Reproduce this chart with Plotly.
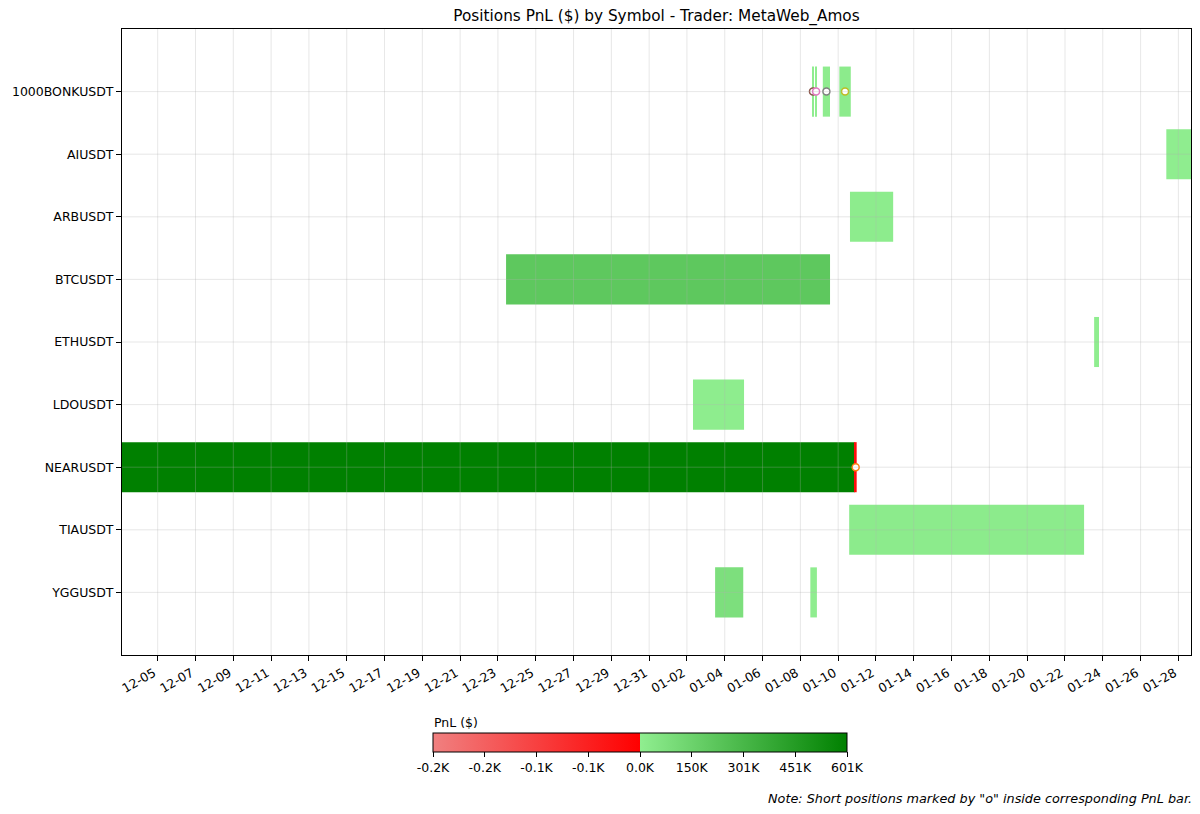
import numpy as np
import pandas as pd
import plotly.graph_objects as go

# --- data ---------------------------------------------------------------
symbols = ["1000BONKUSDT", "AIUSDT", "ARBUSDT", "BTCUSDT", "ETHUSDT",
           "LDOUSDT", "NEARUSDT", "TIAUSDT", "YGGUSDT"]

pos_symbol = ["NEARUSDT", "NEARUSDT",
              "1000BONKUSDT", "1000BONKUSDT", "1000BONKUSDT", "1000BONKUSDT",
              "AIUSDT", "ARBUSDT", "BTCUSDT", "ETHUSDT", "LDOUSDT", "TIAUSDT",
              "YGGUSDT", "YGGUSDT"]
pos_open = ["2023-12-03 02:40", "2024-01-10 21:00",
            "2024-01-08 15:00", "2024-01-08 19:00", "2024-01-09 04:30", "2024-01-10 01:30",
            "2024-01-27 08:40", "2024-01-10 15:00", "2023-12-23 10:20", "2024-01-23 13:00",
            "2024-01-02 07:40", "2024-01-10 14:00",
            "2024-01-03 11:45", "2024-01-08 12:40"]
pos_close = ["2024-01-10 21:00", "2024-01-10 23:30",
             "2024-01-08 17:00", "2024-01-08 21:00", "2024-01-09 13:40", "2024-01-10 16:00",
             "2024-01-28 16:00", "2024-01-12 21:50", "2024-01-09 13:40", "2024-01-23 19:10",
             "2024-01-05 00:30", "2024-01-23 00:15",
             "2024-01-04 23:30", "2024-01-08 21:00"]
pos_pnl = [601200, -20,
           4000, 2000, 9000, 15000,
           6000, 12000, 210000, 3000, 8000, 18000,
           80000, 3000]
pos_short = [False, True,
             True, True, True, True,
             False, False, False, False, False, False,
             False, False]
# marker edge colours of the short positions (in order of appearance)
short_colors = ["#ff7f0e", "#8c564b", "#e377c2", "#7f7f7f", "#bcbd22"]

PNL_MIN = -210
PNL_MAX = 601200

df = pd.DataFrame({"symbol": pos_symbol, "open": pd.to_datetime(pos_open),
                   "close": pd.to_datetime(pos_close), "pnl": pos_pnl, "short": pos_short})
df["dur_ms"] = (df["close"] - df["open"]).dt.total_seconds() * 1000
df["mid"] = df["open"] + (df["close"] - df["open"]) / 2

# red half of the colour bar for losses, green half for gains
def to_c(v):
    if v < 0:
        return 0.5 * (1 - v / PNL_MIN)
    return 0.5 + 0.5 * v / PNL_MAX

df["c"] = df["pnl"].apply(to_c)

neg_ticks = np.linspace(PNL_MIN, 0, 5)
pos_ticks = np.linspace(0, PNL_MAX, 5)[1:]
tick_vals = [to_c(v) for v in neg_ticks] + [to_c(v) for v in pos_ticks]
tick_text = [f"{v/1000:.1f}K" for v in neg_ticks] + [f"{v/1000:.0f}K" for v in pos_ticks]

FONT = "DejaVu Sans"
FS = 12.5
# page body has an 8px margin, so the figure is laid out 8px in from the corner
W, H = 1184, 798
L, R, T, B = 114, 1, 21, 151
PW = W - L - R
PH = H - T - B
BOT = H - B  # plot bottom, px from figure top

def px_x(x):
    return (x - L) / PW

def px_y(y):
    return -(y - BOT) / PH

fig = go.Figure()

fig.add_trace(go.Bar(
    y=df["symbol"],
    x=df["dur_ms"],
    base=df["open"],
    orientation="h",
    width=0.8,
    marker=dict(
        color=df["c"],
        cmin=0, cmax=1,
        colorscale=[[0, "#F08080"], [0.5, "#FF0000"], [0.5, "#90EE90"], [1, "#008000"]],
        line=dict(width=0),
        colorbar=dict(
            orientation="h",
            x=px_x(632), xanchor="center",
            y=px_y(725), yanchor="top",
            len=414, lenmode="pixels",
            thickness=19, xpad=0, ypad=0,
            outlinecolor="black", outlinewidth=1,
            tickvals=tick_vals, ticktext=tick_text,
            ticks="outside", ticklen=5, tickcolor="black",
            tickfont=dict(family=FONT, size=FS, color="black"),
        ),
    ),
    showlegend=False,
    hoverinfo="skip",
))

shorts = df[df["short"]]
fig.add_trace(go.Scatter(
    x=shorts["mid"], y=shorts["symbol"],
    mode="markers",
    marker=dict(symbol="circle", size=7, color="white",
                line=dict(color=short_colors, width=1.5)),
    showlegend=False,
    hoverinfo="skip",
))

# grid drawn on top of the bars, as in the original
x_ticks = pd.date_range("2023-12-05", "2024-01-28", freq="2D")
x_lo = df["open"].min()
x_hi = df["close"].max()
shapes = []
for t in x_ticks:
    shapes.append(dict(type="line", xref="x", yref="paper", x0=t, x1=t, y0=0, y1=1,
                       line=dict(color="rgba(176,176,176,0.3)", width=1), layer="above"))
for s in symbols:
    shapes.append(dict(type="line", xref="paper", yref="y", x0=0, x1=1, y0=s, y1=s,
                       line=dict(color="rgba(176,176,176,0.3)", width=1), layer="above"))
# divider between the two halves of the colour bar
shapes.append(dict(type="line", xref="paper", yref="paper", x0=px_x(632), x1=px_x(632),
                   y0=px_y(725), y1=px_y(744), line=dict(color="black", width=1)))

fig.update_layout(
    width=W, height=H,
    margin=dict(l=L, r=R, t=T, b=B),
    plot_bgcolor="white", paper_bgcolor="white",
    barmode="overlay",
    font=dict(family=FONT, size=FS, color="black"),
    title=dict(text="Positions PnL ($) by Symbol - Trader: MetaWeb_Amos",
               x=0.5, xref="paper", xanchor="center", y=1 - 8 / H, yanchor="middle",
               font=dict(family=FONT, size=15.3, color="black")),
    shapes=shapes,
    annotations=[
        dict(text="PnL ($)", xref="paper", yref="paper",
             x=px_x(424), y=px_y(714),
             xanchor="left", yanchor="middle", showarrow=False,
             font=dict(family=FONT, size=FS, color="black")),
        dict(text='<i>Note: Short positions marked by "o" inside corresponding PnL bar.</i>',
             xref="paper", yref="paper", x=px_x(W - R + 3), y=px_y(790),
             xanchor="right", yanchor="middle", showarrow=False,
             font=dict(family=FONT, size=12.8, color="black")),
    ],
)
fig.update_xaxes(
    type="date", range=[x_lo, x_hi],
    tickvals=x_ticks, tickformat="%m-%d", tickangle=-30,
    ticklabelshift=-4,
    showgrid=False, zeroline=False,
    showline=True, mirror=True, linecolor="black", linewidth=1,
    ticks="outside", ticklen=5, tickcolor="black",
    tickfont=dict(family=FONT, size=FS, color="black"),
)
fig.update_yaxes(
    type="category", categoryorder="array", categoryarray=symbols,
    range=[len(symbols), -1],
    showgrid=False, zeroline=False,
    showline=True, mirror=True, linecolor="black", linewidth=1,
    ticks="outside", ticklen=5, tickcolor="black",
    tickfont=dict(family=FONT, size=FS, color="black"),
)

fig.write_html("out.html")
